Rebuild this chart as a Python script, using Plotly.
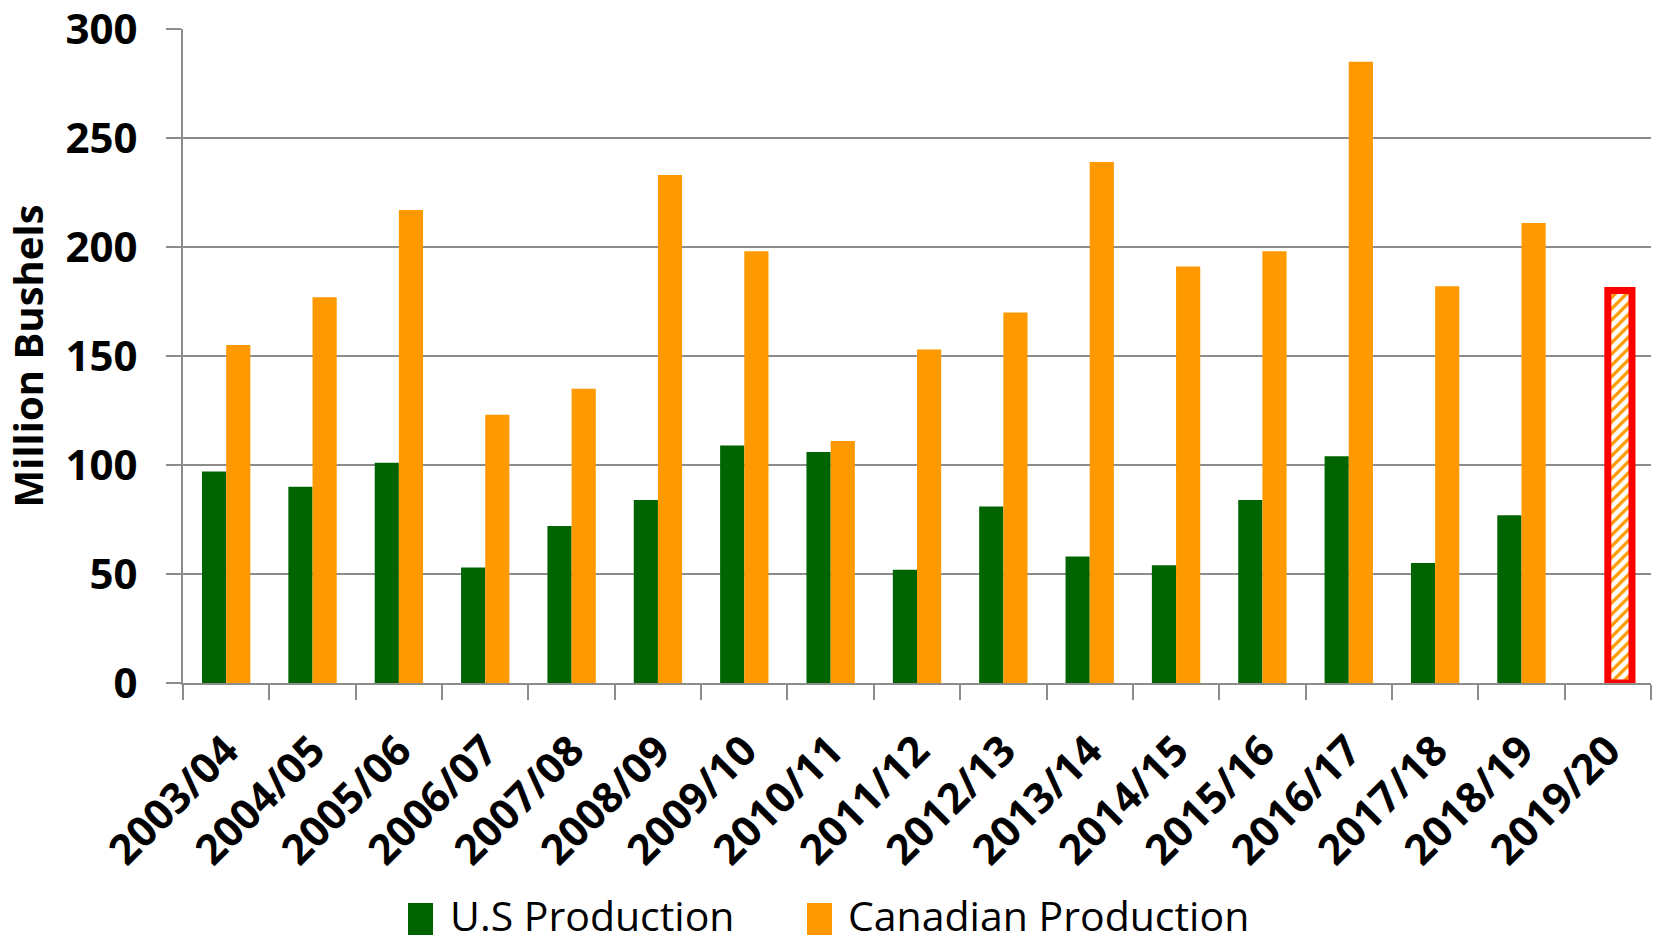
import plotly.graph_objects as go

years = ["2003/04", "2004/05", "2005/06", "2006/07", "2007/08", "2008/09",
         "2009/10", "2010/11", "2011/12", "2012/13", "2013/14", "2014/15",
         "2015/16", "2016/17", "2017/18", "2018/19", "2019/20"]
us_production = [97, 90, 101, 53, 72, 84, 109, 106, 52, 81, 58, 54, 84, 104, 55, 77, None]
canadian_production = [155, 177, 217, 123, 135, 233, 198, 111, 153, 170, 239, 191, 198, 285, 182, 211, 180]
series_names = ["U.S Production", "Canadian Production"]

GREEN = "#006400"
ORANGE = "#FF9900"
n = len(years)
is_forecast = [i == n - 1 for i in range(n)]

fig = go.Figure()
fig.add_trace(go.Bar(
    x=years, y=us_production, name=series_names[0], showlegend=False,
    marker=dict(color=GREEN, line=dict(width=0)),
))
fig.add_trace(go.Bar(
    x=years, y=canadian_production, name=series_names[1], showlegend=False,
    marker=dict(
        color=ORANGE,
        line=dict(color=[("#FF0000" if f else ORANGE) for f in is_forecast],
                  width=[7 if f else 0 for f in is_forecast]),
        pattern=dict(shape=[("/" if f else "") for f in is_forecast],
                     fgcolor=[ORANGE] * n,
                     bgcolor=[("white" if f else ORANGE) for f in is_forecast],
                     size=8, solidity=0.4, fillmode="replace"),
    ),
))

font_family = "Open Sans"

# Plot area in pixels: left 183, right 1651, top 29, bottom 683
L, R, T, B = 183, 1651, 29, 683
W, H = R - L, B - T

def px_to_paper(x, y):
    return (x - L) / W, (B - y) / H

legend_items = [
    (series_names[0], GREEN, 408, 448),
    (series_names[1], ORANGE, 807, 846),
]
shapes = []
annotations = []
for name, color, sq_x, tx in legend_items:
    x0, y0 = px_to_paper(sq_x, 935)
    x1, y1 = px_to_paper(sq_x + 25, 903)
    shapes.append(dict(type="rect", xref="paper", yref="paper",
                       x0=x0, x1=x1, y0=y0, y1=y1,
                       fillcolor=color, line=dict(width=0)))
    ax, ay = px_to_paper(tx, 915)
    annotations.append(dict(text=name, xref="paper", yref="paper", x=ax, y=ay,
                            xanchor="left", yanchor="middle", showarrow=False,
                            font=dict(size=41, family=font_family, color="black")))

fig.update_layout(
    width=1654, height=946,
    paper_bgcolor="white", plot_bgcolor="white",
    barmode="group", bargap=0.44, bargroupgap=0,
    margin=dict(l=L, r=1654 - R, t=T, b=946 - B, autoexpand=False),
    font=dict(family=font_family, color="black"),
    showlegend=False,
    shapes=shapes,
    annotations=annotations,
)
fig.update_yaxes(
    range=[0, 300], dtick=50, automargin=False,
    showgrid=True, gridcolor="#8c8c8c", gridwidth=1.5,
    showline=True, linecolor="#8c8c8c", linewidth=2,
    ticks="outside", ticklen=15, tickcolor="#8c8c8c", tickwidth=2,
    ticklabelstandoff=20, ticklabeloverflow="allow",
    tickfont=dict(size=42, family=font_family, weight="bold", color="black"),
    title=dict(text="Million Bushels", standoff=14,
               font=dict(size=40, family=font_family, weight="bold", color="black")),
    zeroline=False,
)
fig.update_xaxes(
    type="category", tickangle=-45, automargin=False,
    showline=True, linecolor="#8c8c8c", linewidth=2,
    ticks="outside", ticklen=15, tickcolor="#8c8c8c", tickwidth=2,
    tickson="boundaries", ticklabelstandoff=24, ticklabeloverflow="allow",
    tickfont=dict(size=42, family=font_family, weight="bold", color="black"),
    showgrid=False,
)

fig.write_html("out.html", config={"displayModeBar": False},
               post_script="document.body.style.margin='0';document.body.style.overflow='hidden';")
